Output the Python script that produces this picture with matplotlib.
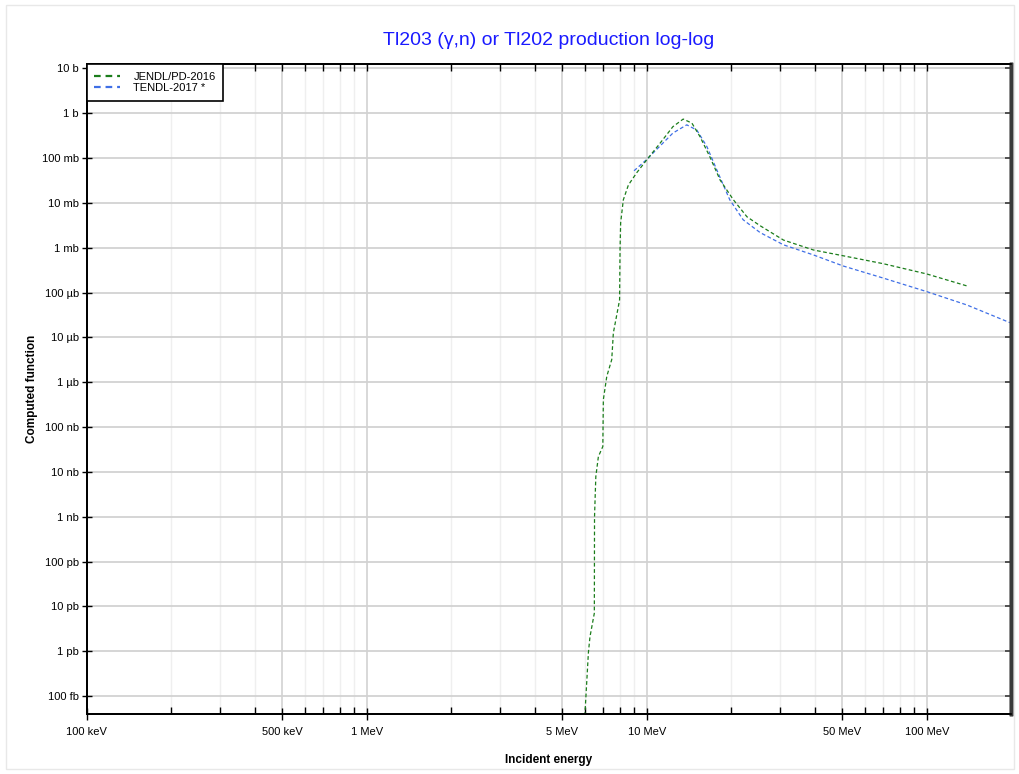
import numpy as np
import matplotlib
matplotlib.use('Agg')
import matplotlib.pyplot as plt
from matplotlib.lines import Line2D
from matplotlib.patches import Rectangle

plt.rcParams['font.family'] = ['Liberation Sans', 'DejaVu Sans']

# JENDL/PD-2016, energy in MeV, cross section in barns
jendl_e = [5.98, 6.02, 6.19, 6.27, 6.50, 6.51, 6.58, 6.72, 6.97, 7.00, 7.20,
           7.50, 7.60, 7.92, 8.00, 8.03, 8.07, 8.25, 8.60, 9.21, 10.0, 11.2,
           12.4, 13.5, 14.5, 15.5, 16.8, 18.3, 20.4, 22.8, 25.4, 30.8, 39.4,
           50.4, 70.0, 100.0, 139.0]
jendl_xs = [1.0e-14, 4.3e-14, 9.3e-13, 2.1e-12, 7.1e-12, 1.0e-9, 7.9e-9,
            2.2e-8, 3.7e-8, 4.1e-7, 1.35e-6, 3.2e-6, 1.26e-5, 4.9e-5, 6.9e-5,
            9.0e-4, 3.6e-3, 1.17e-2, 2.5e-2, 4.7e-2, 9.1e-2, 0.22, 0.50, 0.74,
            0.60, 0.30, 0.107, 0.032, 0.0117, 4.9e-3, 3.1e-3, 1.48e-3, 8.9e-4,
            6.6e-4, 4.4e-4, 2.6e-4, 1.41e-4]

# TENDL-2017
tendl_e = [9.01, 10.0, 11.2, 12.4, 13.9, 15.1, 16.4, 17.8, 19.8, 22.1, 25.4,
           30.8, 39.4, 50.4, 70.0, 100.0, 139.0, 198.0]
tendl_xs = [0.052, 0.093, 0.19, 0.36, 0.55, 0.42, 0.18, 0.054, 0.0117, 4.2e-3,
            2.18e-3, 1.16e-3, 6.9e-4, 3.9e-4, 2.1e-4, 1.05e-4, 5.3e-5, 2.14e-5]

x_ticks = [0.1, 0.5, 1, 5, 10, 50, 100]
x_labels = ['100 keV', '500 keV', '1 MeV', '5 MeV', '10 MeV', '50 MeV', '100 MeV']
y_ticks = [10.0 ** k for k in range(1, -14, -1)]
y_labels = ['10 b', '1 b', '100 mb', '10 mb', '1 mb', '100 µb', '10 µb', '1 µb',
            '100 nb', '10 nb', '1 nb', '100 pb', '10 pb', '1 pb', '100 fb']

GREEN = '#1b7d1b'
BLUE = '#3f6fe6'
XLIM = (0.1, 200)
YLIM = (4.0e-14, 12.2)

fig = plt.figure(figsize=(10.2, 7.74), dpi=100)
ax = fig.add_axes([0.085, 0.0775, 0.9062, 0.8392])

# outer light frame
fig.patches.append(Rectangle((0.006, 0.006), 0.988, 0.988, transform=fig.transFigure,
                             fill=False, edgecolor='#e8e8e8', lw=1))

ax.set_xscale('log')
ax.set_yscale('log')
ax.set_xlim(*XLIM)
ax.set_ylim(*YLIM)

# grid
minor_x = [m * 10.0 ** d for d in range(-1, 3) for m in range(2, 10) if m != 5]
minor_x = [v for v in minor_x if v < XLIM[1]]
for xv in minor_x:
    ax.axvline(xv, color='#efefef', lw=1, zorder=0)
for xv in x_ticks:
    ax.axvline(xv, color='#d2d2d2', lw=1.2, zorder=0)
for yv in y_ticks:
    ax.axhline(yv, color='#d2d2d2', lw=1.3, zorder=0)

ax.plot(jendl_e, jendl_xs, color=GREEN, lw=0.9, dashes=(3, 2), zorder=3)
ax.plot(tendl_e, tendl_xs, color=BLUE, lw=0.9, dashes=(3, 2), zorder=2)

ax.set_xticks(x_ticks)
ax.set_xticklabels(x_labels, fontsize=8)
ax.set_xticks(minor_x, minor=True)
ax.set_yticks(y_ticks)
ax.set_yticklabels(y_labels, fontsize=8)
ax.yaxis.set_minor_locator(matplotlib.ticker.NullLocator())

ax.tick_params(axis='x', which='major', direction='inout', length=9, width=1, pad=5)
ax.tick_params(axis='x', which='minor', direction='in', length=5, width=1)
ax.tick_params(axis='y', which='major', direction='inout', length=7, width=1, pad=2)

# inward ticks on top and right
ax_top = ax.twiny()
ax_top.set_xscale('log')
ax_top.set_xlim(*XLIM)
ax_top.set_xticks(x_ticks)
ax_top.set_xticks(minor_x, minor=True)
ax_top.tick_params(axis='x', which='both', direction='in', length=5, width=1,
                   labeltop=False)
ax_right = ax.twinx()
ax_right.set_yscale('log')
ax_right.set_ylim(*YLIM)
ax_right.set_yticks(y_ticks)
ax_right.yaxis.set_minor_locator(matplotlib.ticker.NullLocator())
ax_right.tick_params(axis='y', which='both', direction='in', length=4, width=1.2,
                     labelright=False, color='#3a3a3a')

for a in (ax, ax_top, ax_right):
    for side in ['left', 'bottom', 'top']:
        a.spines[side].set_color('black')
        a.spines[side].set_linewidth(1.2)
    a.spines['right'].set_color('#3a3a3a')
    a.spines['right'].set_linewidth(2.5)

ax.set_xlabel('Incident energy', fontsize=8.5, fontweight='bold', labelpad=12)
ax.set_ylabel('Computed function', fontsize=8.5, fontweight='bold', labelpad=3)
ax.set_title('Tl203 (γ,n) or Tl202 production log-log', color='#1a1aff',
             fontsize=14, pad=14)

handles = [Line2D([], [], color=GREEN, lw=1.6, dashes=(3, 2.2)),
           Line2D([], [], color=BLUE, lw=1.6, dashes=(3, 2.2))]
leg = ax_right.legend(handles, ['JENDL/PD-2016', 'TENDL-2017 *'], loc='upper left',
                      fontsize=8, frameon=True, fancybox=False, framealpha=1,
                      edgecolor='black', borderaxespad=0, handlelength=2.35,
                      handletextpad=1.2, borderpad=0.65, labelspacing=0.15)
leg.get_frame().set_linewidth(1.2)

fig.savefig('out.png', dpi=100)
